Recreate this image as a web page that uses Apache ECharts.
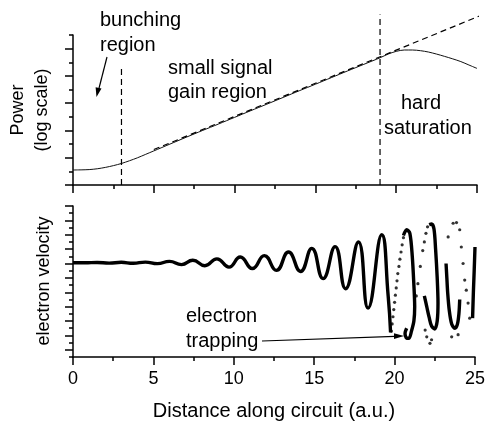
<!DOCTYPE html>
<html><head><meta charset="utf-8">
<script src="https://cdn.jsdelivr.net/npm/echarts@6/dist/echarts.min.js"></script>
<style>html,body{margin:0;padding:0;background:#fff}#c{width:488px;height:424px}</style>
</head><body><div id="c"></div>
<script>
// ---- data ----
const xTickLabels = ['0','5','10','15','20','25'];
const powerX = [0,0.5,1,1.5,2,2.5,3,3.5,4,4.5,5,6,7,8,9,10,11,12,13,14,15,16,17,18,19,19.5,20,20.5,21,21.5,22,22.5,23,23.5,24,24.5,25];
const powerY = [1.1,1.11,1.13,1.19,1.29,1.42,1.58,1.78,2.0,2.25,2.5,3.0,3.5,3.99,4.47,4.96,5.45,5.93,6.42,6.91,7.39,7.88,8.37,8.85,9.33,9.6,9.8,9.9,9.9,9.85,9.75,9.6,9.43,9.25,9.05,8.8,8.55];
const gainX = [5, 25.7];
const gainY = [2.6, 12.66];
const bunchX = [3, 3];
const bunchY = [0, 8.6];
const satX = [19, 19];
const satY = [0, 12.5];

const velAX = [0,0.75,1.5,2.25,3.0,3.75,4.5,5.25,6.0,6.75,7.45,8.2,8.95,9.7,10.4,11.15,11.9,12.65,13.4,14.15,14.85,15.55,16.3,16.95,17.75,18.35,19.2,19.6,19.75];
const velAY = [13.1,13.1,13.15,13.05,13.17,13.03,13.2,12.98,13.3,12.85,13.45,12.7,13.65,12.5,13.9,12.3,14.1,12.05,14.6,11.9,15.1,10.9,15.35,9.5,16.0,6.8,17.0,8.5,3.4];
const velBX = [20.55,20.75,20.95,21.1,21.2,21.25,21.2,21.05,20.9,20.75,20.65,20.75];
const velBY = [16.9,17.7,17.2,14,10,7,5,3.6,2.6,2.6,3.3,4.0];
const velCX = [22.15,22.3,22.45,22.55,22.65,22.7,22.65,22.5,22.3,22.15,22.0,21.85];
const velCY = [18.4,18.5,17.8,15,11,7.5,5.0,3.9,4.3,5.5,7.0,8.5];
const velDX = [23.2,23.25,23.3,23.4,23.55,23.75,23.9,24.0,24.05];
const velDY = [13.0,11,9,6.5,4.6,4.0,4.5,6.0,8];
const velEX = [24.85,24.9,24.95,25.0];
const velEY = [5.4,9,12,15.3];
const dotX = [19.8,19.85,19.9,19.95,20.0,20.05,20.1,20.15,20.2,20.27,20.33,20.4,20.47,20.55,
  21.35,21.45,21.6,21.75,21.85,21.95,22.05,21.9,22.0,22.2,22.3,
  23.33,23.64,23.85,24.05,24.15,24.26,24.36,24.46,24.57,24.67,23.95,23.55];
const dotY = [3.6,4.6,5.6,6.6,7.6,8.6,9.6,10.6,11.6,12.6,13.6,14.6,15.6,16.6,
  8.5,10.2,12.6,14.8,16.0,17.2,18.1,3.75,2.8,1.9,2.4,
  16.7,18.6,18.7,17.7,15.3,13.0,10.7,9.3,7.5,5.4,3.1,2.8];

// ---- chart ----
const FONT = '"Liberation Sans", Arial, Helvetica, sans-serif';
const pairs = (xs, ys) => xs.map((x, i) => [x, ys[i]]);
const black = '#000';
const lineAx = {show: true, onZero: false, lineStyle: {color: black, width: 1.5}};
const tickSty = {color: black, width: 1.5};

const chart = echarts.init(document.getElementById('c'), null, {renderer: 'canvas'});

function xAxisDef(grid, labels) {
  return {
    gridIndex: grid, type: 'value', min: 0, max: 25, interval: 5,
    axisLine: lineAx,
    axisTick: {show: true, inside: false, length: 8, lineStyle: tickSty},
    minorTick: {show: true, splitNumber: 2, length: 4, lineStyle: tickSty},
    splitLine: {show: false}, minorSplitLine: {show: false},
    axisLabel: labels ? {show: true, color: black, fontSize: 18, fontFamily: FONT, margin: 13,
      formatter: v => xTickLabels[Math.round(v / 5)]} : {show: false},
    name: labels ? 'Distance along circuit (a.u.)' : '',
    nameLocation: 'middle', nameGap: 44,
    nameTextStyle: {fontSize: 20, color: black, fontFamily: FONT}
  };
}
function hiddenX(grid) { return {gridIndex: grid, type: 'value', min: 0, max: 25, show: false}; }
function yAxisDef(grid, max, interval, len, showLine) {
  return {
    gridIndex: grid, type: 'value', min: 0, max: max, interval: interval,
    axisLine: showLine ? lineAx : {show: false},
    axisTick: {show: true, inside: false, length: len, lineStyle: tickSty},
    axisLabel: {show: false}, splitLine: {show: false}
  };
}

const lineBase = {type: 'line', showSymbol: false, symbol: 'none', silent: true, clip: false};
const velW = 3.4;

chart.setOption({
  animation: false,
  backgroundColor: '#fff',
  textStyle: {fontFamily: FONT},
  grid: [
    {left: 73, top: 35, width: 404, height: 150},
    {left: 73, top: 48.6, width: 404, height: 136.4},
    {left: 73, top: 206, width: 404, height: 151},
    {left: 73, top: 206, width: 404, height: 143.8}
  ],
  xAxis: [xAxisDef(0, false), hiddenX(1), xAxisDef(2, true), hiddenX(3)],
  yAxis: [
    yAxisDef(0, 11, 1, 4, true),
    yAxisDef(1, 10, 2, 8, false),
    yAxisDef(2, 21, 1, 4, true),
    yAxisDef(3, 20, 2, 8, false)
  ],
  series: [
    Object.assign({}, lineBase, {xAxisIndex: 0, yAxisIndex: 0, smooth: 0.3,
      data: pairs(powerX, powerY), lineStyle: {color: '#111', width: 1}}),
    Object.assign({}, lineBase, {xAxisIndex: 0, yAxisIndex: 0,
      data: pairs(gainX, gainY), lineStyle: {color: black, width: 1.2, type: [6, 4]}}),
    Object.assign({}, lineBase, {xAxisIndex: 0, yAxisIndex: 0,
      data: pairs(bunchX, bunchY), lineStyle: {color: black, width: 1.2, type: [6, 4]}}),
    Object.assign({}, lineBase, {xAxisIndex: 0, yAxisIndex: 0,
      data: pairs(satX, satY), lineStyle: {color: black, width: 1.2, type: [6, 4]}}),
    Object.assign({}, lineBase, {xAxisIndex: 2, yAxisIndex: 2, smooth: 0.5,
      data: pairs(velAX, velAY), lineStyle: {color: black, width: velW}}),
    Object.assign({}, lineBase, {xAxisIndex: 2, yAxisIndex: 2, smooth: 0.3,
      data: pairs(velBX, velBY), lineStyle: {color: black, width: velW}}),
    Object.assign({}, lineBase, {xAxisIndex: 2, yAxisIndex: 2, smooth: 0.3,
      data: pairs(velCX, velCY), lineStyle: {color: black, width: velW}}),
    Object.assign({}, lineBase, {xAxisIndex: 2, yAxisIndex: 2, smooth: 0.3,
      data: pairs(velDX, velDY), lineStyle: {color: black, width: velW}}),
    Object.assign({}, lineBase, {xAxisIndex: 2, yAxisIndex: 2, smooth: 0.3,
      data: pairs(velEX, velEY), lineStyle: {color: black, width: velW}}),
    {type: 'scatter', xAxisIndex: 2, yAxisIndex: 2, symbol: 'circle', symbolSize: 3.2, silent: true, clip: false,
      itemStyle: {color: black}, data: pairs(dotX, dotY)}
  ],
  graphic: [
    {type: 'text', x: 18, y: 110, rotation: Math.PI / 2, style: {text: 'Power', fontSize: 18, fontFamily: FONT, fill: black, align: 'center', verticalAlign: 'middle'}},
    {type: 'text', x: 42, y: 110, rotation: Math.PI / 2, style: {text: '(log scale)', fontSize: 18, fontFamily: FONT, fill: black, align: 'center', verticalAlign: 'middle'}},
    {type: 'text', x: 44, y: 281, rotation: Math.PI / 2, style: {text: 'electron velocity', fontSize: 18, fontFamily: FONT, fill: black, align: 'center', verticalAlign: 'middle'}},
    {type: 'text', x: 100, y: 20, style: {text: 'bunching', fontSize: 20, fontFamily: FONT, fill: black, align: 'left', verticalAlign: 'middle'}},
    {type: 'text', x: 100, y: 45, style: {text: 'region', fontSize: 20, fontFamily: FONT, fill: black, align: 'left', verticalAlign: 'middle'}},
    {type: 'text', x: 168, y: 68, style: {text: 'small signal', fontSize: 20, fontFamily: FONT, fill: black, align: 'left', verticalAlign: 'middle'}},
    {type: 'text', x: 168, y: 92, style: {text: 'gain region', fontSize: 20, fontFamily: FONT, fill: black, align: 'left', verticalAlign: 'middle'}},
    {type: 'text', x: 401, y: 103, style: {text: 'hard', fontSize: 20, fontFamily: FONT, fill: black, align: 'left', verticalAlign: 'middle'}},
    {type: 'text', x: 384, y: 128, style: {text: 'saturation', fontSize: 20, fontFamily: FONT, fill: black, align: 'left', verticalAlign: 'middle'}},
    {type: 'text', x: 186, y: 316, style: {text: 'electron', fontSize: 20, fontFamily: FONT, fill: black, align: 'left', verticalAlign: 'middle'}},
    {type: 'text', x: 186, y: 341, style: {text: 'trapping', fontSize: 20, fontFamily: FONT, fill: black, align: 'left', verticalAlign: 'middle'}},
    {type: 'line', shape: {x1: 107, y1: 57, x2: 98.8, y2: 89}, style: {stroke: black, lineWidth: 1.2}},
    {type: 'polygon', shape: {points: [[96.5, 97], [101.5, 88.6], [95.6, 87.2]]}, style: {fill: black}},
    {type: 'line', shape: {x1: 262, y1: 341, x2: 395, y2: 336.3}, style: {stroke: black, lineWidth: 1.2}},
    {type: 'polygon', shape: {points: [[404, 336], [394, 333.3], [394, 339]]}, style: {fill: black}}
  ]
});
</script>
</body></html>
